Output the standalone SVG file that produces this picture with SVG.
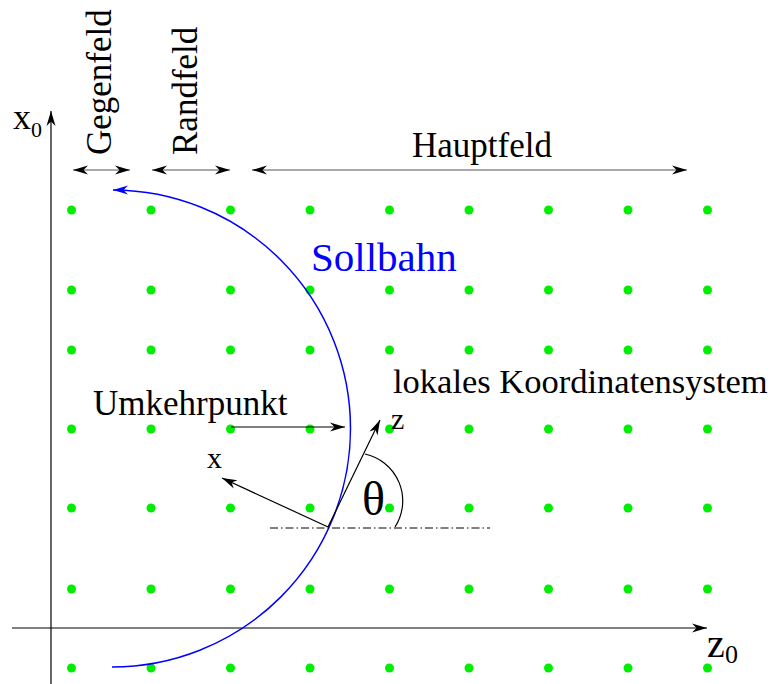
<svg xmlns="http://www.w3.org/2000/svg" width="782" height="684" viewBox="0 0 782 684">
<style>
  text { font-family: "Liberation Serif", "Times New Roman", serif; fill: #000; }
  .dot { fill: #00ee00; }
  .ln { stroke: #000; stroke-width: 1.2; fill: none; }
  .dim { stroke: #555; stroke-width: 1.2; fill: none; }
</style>
<defs>
  <marker id="ah" viewBox="-16 -5 17 10" refX="0" refY="0" markerWidth="17" markerHeight="10" orient="auto-start-reverse" markerUnits="userSpaceOnUse">
    <path d="M0,0 L-15,-4.5 L-10.5,0 L-15,4.5 Z" fill="#000"/>
  </marker>
  <marker id="ahb" viewBox="-16 -5 17 10" refX="0" refY="0" markerWidth="17" markerHeight="10" orient="auto" markerUnits="userSpaceOnUse">
    <path d="M0,0 L-15,-4.5 L-10.5,0 L-15,4.5 Z" fill="#0000ff"/>
  </marker>
  <circle id="d" r="4.5" class="dot"/>
</defs>
<rect width="782" height="684" fill="#fff"/>

<g id="grid">
  <g id="row1">
    <use href="#d" x="71.5" y="210"/><use href="#d" x="151" y="210"/><use href="#d" x="230.5" y="210"/><use href="#d" x="310" y="210"/><use href="#d" x="389.5" y="210"/><use href="#d" x="469" y="210"/><use href="#d" x="548.5" y="210"/><use href="#d" x="628" y="210"/><use href="#d" x="707.5" y="210"/>
  </g>
  <g id="row2">
    <use href="#d" x="71.5" y="290"/><use href="#d" x="151" y="290"/><use href="#d" x="230.5" y="290"/><use href="#d" x="310" y="290"/><use href="#d" x="389.5" y="290"/><use href="#d" x="469" y="290"/><use href="#d" x="548.5" y="290"/><use href="#d" x="628" y="290"/><use href="#d" x="707.5" y="290"/>
  </g>
  <g id="row3">
    <use href="#d" x="71.5" y="350"/><use href="#d" x="151" y="350"/><use href="#d" x="230.5" y="350"/><use href="#d" x="310" y="350"/><use href="#d" x="389.5" y="350"/><use href="#d" x="469" y="350"/><use href="#d" x="548.5" y="350"/><use href="#d" x="628" y="350"/><use href="#d" x="707.5" y="350"/>
  </g>
  <g id="row4">
    <use href="#d" x="71.5" y="429"/><use href="#d" x="151" y="429"/><use href="#d" x="230.5" y="429"/><use href="#d" x="310" y="429"/><use href="#d" x="389.5" y="429"/><use href="#d" x="469" y="429"/><use href="#d" x="548.5" y="429"/><use href="#d" x="628" y="429"/><use href="#d" x="707.5" y="429"/>
  </g>
  <g id="row5">
    <use href="#d" x="71.5" y="508"/><use href="#d" x="151" y="508"/><use href="#d" x="230.5" y="508"/><use href="#d" x="310" y="508"/><use href="#d" x="389.5" y="508"/><use href="#d" x="469" y="508"/><use href="#d" x="548.5" y="508"/><use href="#d" x="628" y="508"/><use href="#d" x="707.5" y="508"/>
  </g>
  <g id="row6">
    <use href="#d" x="71.5" y="589"/><use href="#d" x="151" y="589"/><use href="#d" x="230.5" y="589"/><use href="#d" x="310" y="589"/><use href="#d" x="389.5" y="589"/><use href="#d" x="469" y="589"/><use href="#d" x="548.5" y="589"/><use href="#d" x="628" y="589"/><use href="#d" x="707.5" y="589"/>
  </g>
  <g id="row7">
    <use href="#d" x="71.5" y="668"/><use href="#d" x="151" y="668"/><use href="#d" x="230.5" y="668"/><use href="#d" x="310" y="668"/><use href="#d" x="389.5" y="668"/><use href="#d" x="469" y="668"/><use href="#d" x="548.5" y="668"/><use href="#d" x="628" y="668"/><use href="#d" x="707.5" y="668"/>
  </g>
</g>

<g id="connectors">
  <line id="axis-x0" class="ln" x1="51" y1="684" x2="51" y2="111" marker-end="url(#ah)"/>
  <line id="axis-z0" class="ln" x1="12" y1="628" x2="707" y2="628" marker-end="url(#ah)"/>
  <line id="dim-gegen" class="dim" x1="73" y1="170" x2="130" y2="170" marker-start="url(#ah)" marker-end="url(#ah)"/>
  <line id="dim-rand" class="dim" x1="152" y1="170" x2="230" y2="170" marker-start="url(#ah)" marker-end="url(#ah)"/>
  <line id="dim-haupt" class="dim" x1="252" y1="170" x2="687" y2="170" marker-start="url(#ah)" marker-end="url(#ah)"/>
  <path id="sollbahn-path" d="M112,667 A238.5,238.5 0 0 0 350.5,428.5 A238.5,238.5 0 0 0 113,190" fill="none" stroke="#0000ff" stroke-width="1.5" marker-end="url(#ahb)"/>
  <line id="umkehr-arrow" class="ln" x1="231" y1="427" x2="345" y2="427" marker-end="url(#ah)"/>
  <line id="local-z" class="ln" x1="328" y1="527" x2="380" y2="420" marker-end="url(#ah)"/>
  <line id="local-x" class="ln" x1="328" y1="527" x2="222" y2="478" marker-end="url(#ah)"/>
  <line id="dashdot" x1="270" y1="528" x2="490" y2="528" stroke="#000" stroke-width="1" stroke-dasharray="8 3 1.5 3"/>
  <path id="theta-arc" class="ln" d="M365,454 A48,48 0 0 1 395,527"/>
</g>

<g id="label-x0"><text x="13" y="129" font-size="36">x</text><text x="31" y="137" font-size="22">0</text></g>
<g id="label-z0"><text x="707" y="657" font-size="40">z</text><text x="725" y="663" font-size="26">0</text></g>
<g id="label-gegenfeld"><text transform="translate(111,155) rotate(-90)" font-size="35">Gegenfeld</text></g>
<g id="label-randfeld"><text transform="translate(197,155) rotate(-90)" font-size="35">Randfeld</text></g>
<g id="label-hauptfeld"><text x="412" y="157" font-size="35">Hauptfeld</text></g>
<g id="label-sollbahn"><text x="311" y="271" font-size="41" style="fill:#0000ff">Sollbahn</text></g>
<g id="label-lokales"><text x="393" y="393" font-size="34.5">lokales Koordinatensystem</text></g>
<g id="label-umkehrpunkt"><text x="93" y="415" font-size="35">Umkehrpunkt</text></g>
<g id="label-x"><text x="207" y="468" font-size="30">x</text></g>
<g id="label-z"><text x="391" y="429" font-size="30">z</text></g>
<g id="label-theta"><text x="362" y="515" font-size="48">θ</text></g>
</svg>
